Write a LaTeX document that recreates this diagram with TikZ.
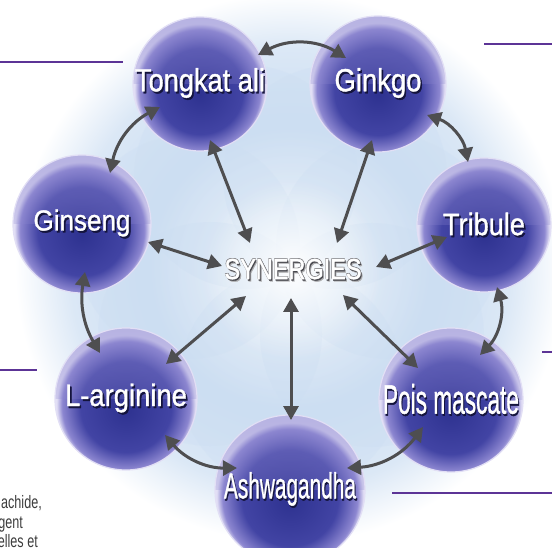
\documentclass[tikz,border=0pt]{standalone}
\usepackage{fontspec}
\usepackage{graphicx}
\setmainfont{Liberation Sans}
\newfontfamily\narrowfont[FakeStretch=0.7]{Liberation Sans}
\newfontfamily\ballfont[FakeBold=1.2]{Liberation Sans}
\usetikzlibrary{arrows.meta,fadings}

\definecolor{sphdark}{RGB}{46,50,144}
\definecolor{sphmid}{RGB}{66,68,164}
\definecolor{sphlt}{RGB}{140,134,208}
\definecolor{sphrim}{RGB}{226,223,245}
\definecolor{glowblue}{RGB}{204,222,242}
\definecolor{arrowgray}{RGB}{78,78,80}
\definecolor{rulepurple}{RGB}{92,52,150}
\definecolor{txtshadow}{RGB}{20,20,60}
\definecolor{synshadow}{RGB}{72,72,78}
\definecolor{textgray}{RGB}{60,60,60}

\pgfdeclareradialshading{sphere}{\pgfpoint{0bp}{-4bp}}{color(0bp)=(sphdark); color(16bp)=(sphmid); color(22.5bp)=(sphlt); color(24.5bp)=(sphrim); color(25bp)=(sphrim); color(50bp)=(sphrim)}
\pgfdeclareradialshading{glow}{\pgfpoint{0bp}{0bp}}{color(0bp)=(white); color(5bp)=(white); color(13bp)=(glowblue); color(20bp)=(glowblue!70!white); color(25bp)=(white); color(50bp)=(white)}
\tikzfading[name=fadetop, top color=transparent!50, bottom color=transparent!100]
\tikzfading[name=centerglow, inner color=transparent!0, outer color=transparent!100]

\newcommand\shadowed[2]{\leavevmode\rlap{\kern1.8pt\raisebox{-2pt}{\color{#1}#2}}#2}
\newcommand\embossed[2]{\leavevmode
  \rlap{\kern2.4pt\raisebox{-2.4pt}{\color{#1!45!white}#2}}%
  \rlap{\kern1.3pt\raisebox{-1.3pt}{\color{#1}#2}}%
  \rlap{\kern-0.6pt\raisebox{0.6pt}{\color{#1!70!white}#2}}%
  \rlap{\kern0.6pt\raisebox{0.6pt}{\color{#1!70!white}#2}}#2}
\newcommand\balltext[4]{\resizebox{#1}{\height}{\fontsize{#2}{#2}\selectfont\ballfont\shadowed{#3}{#4}}}

\tikzset{
  ball/.style={circle, shade, shading=sphere, draw=sphrim, line width=1.2pt,
    inner sep=0pt, text=white,
    path picture={\fill[sphlt, path fading=fadetop]
      (path picture bounding box.north west) rectangle (path picture bounding box.east);}},
  link/.style={arrowgray, line width=3pt,
    {Triangle[length=14pt,width=15pt]}-{Triangle[length=14pt,width=15pt]}},
  rule/.style={rulepurple, line width=2.4pt},
  petal/.style={glowblue, opacity=0.3},
  sidetext/.style={anchor=base east, inner sep=0pt, text=textgray,
    font=\narrowfont\fontsize{18}{20}\selectfont}
}

\begin{document}
\begin{tikzpicture}[x=1pt,y=1pt]
\useasboundingbox (0,0) rectangle (552,-548);

\shade[shading=glow] (290,-268) circle (275);
\foreach \px/\py in {246/-177,335/-177,388/-247,372/-335,291/-380,210/-334,188/-247}
  \fill[petal] (\px,\py) circle (112);
\fill[white, path fading=centerglow] (293,-270) circle (90);

\draw[rule] (0,-62) -- (123,-62);
\draw[rule] (484,-44) -- (552,-44);
\draw[rule] (0,-370) -- (37,-370);
\draw[rule] (542,-352) -- (552,-352);
\draw[rule] (392,-493) -- (552,-493);

\node[sidetext] (line1) at (42,-508) {achide,};
\node[sidetext] (line2) at (23,-528) {gent};
\node[sidetext] (line3) at (38,-547) {elles et};

\node[ball, minimum size=134pt] (tongkat) at (200,-84) {\balltext{130pt}{32}{txtshadow}{Tongkat ali}};
\node[ball, minimum size=136pt] (ginkgo) at (378,-84) {\balltext{87pt}{32}{txtshadow}{Ginkgo}};
\node[ball, minimum size=134pt] (tribule) at (484,-225) {\balltext{82pt}{31}{txtshadow}{Tribule}};
\node[ball, minimum size=144pt] (pois) at (451,-400) {\balltext{136pt}{41}{txtshadow}{Pois mascate}};
\node[ball, minimum size=150pt] (ashwa) at (290,-490) {\balltext{132pt}{36}{txtshadow}{Ashwagandha}};
\node[ball, minimum size=142pt] (larg) at (126,-399) {\balltext{122pt}{31}{txtshadow}{L-arginine}};
\node[ball, minimum size=138pt] (ginseng) at (82,-224) {\balltext{97pt}{29}{txtshadow}{Ginseng}};

\node (syn) at (293,-270) {\resizebox{137pt}{\height}{\fontsize{29}{29}\selectfont\ballfont\color{white}\embossed{synshadow}{SYNERGIES}}};

\draw[link] ([shift={(10,-56)}]tongkat.center) -- ([shift={(-43,27)}]syn.center);
\draw[link] ([shift={(-6,-56)}]ginkgo.center) -- ([shift={(44,27)}]syn.center);
\draw[link] ([shift={(-37,-12)}]tribule.center) -- ([shift={(83,3)}]syn.center);
\draw[link] ([shift={(-33,32)}]pois.center) -- ([shift={(50,-25)}]syn.center);
\draw[link] ([shift={(1,70)}]ashwa.center) -- ([shift={(-2,-28)}]syn.center);
\draw[link] ([shift={(40,35)}]larg.center) -- ([shift={(-47,-26)}]syn.center);
\draw[link] ([shift={(66,-18)}]ginseng.center) -- ([shift={(-71,4)}]syn.center);

\draw[link] ([shift={(58,29)}]tongkat.center) to[bend left=30] ([shift={(-32,26)}]ginkgo.center);
\draw[link] ([shift={(49,-31)}]ginkgo.center) to[bend left=30] ([shift={(-16,63)}]tribule.center);
\draw[link] ([shift={(13,-62)}]tribule.center) to[bend left=30] ([shift={(29,45)}]pois.center);
\draw[link] ([shift={(-28,-27)}]pois.center) to[bend left=25] ([shift={(57,22)}]ashwa.center);
\draw[link] ([shift={(-53,22)}]ashwa.center) to[bend left=25] ([shift={(39,-36)}]larg.center);
\draw[link] ([shift={(-26,46)}]larg.center) to[bend left=20] ([shift={(3,-48)}]ginseng.center);
\draw[link] ([shift={(28,51)}]ginseng.center) to[bend left=25] ([shift={(-40,-23)}]tongkat.center);
\end{tikzpicture}
\end{document}
